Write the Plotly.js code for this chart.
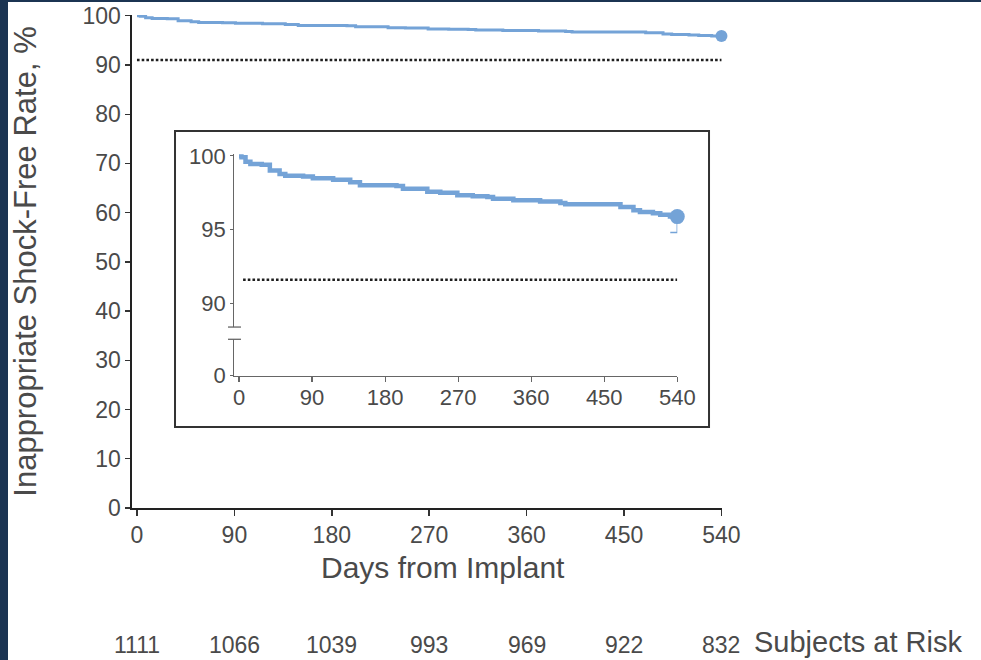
<!DOCTYPE html>
<html>
<head>
<meta charset="utf-8">
<script src="https://cdn.plot.ly/plotly-3.0.1.min.js"></script>
<style>
  html, body { margin: 0; padding: 0; background: #ffffff; }
  #wrap { position: relative; width: 981px; height: 660px; overflow: hidden; }
  #chart { position: absolute; left: 0; top: 0; width: 981px; height: 660px; }
  .band { position: absolute; background: #1b3452; }
</style>
</head>
<body>
<div id="wrap">
  <div id="chart"></div>
  <div class="band" style="left:0;top:0;width:8px;height:660px;"></div>
  <div class="band" style="left:0;top:0;width:981px;height:2px;"></div>
</div>
<script>
// ---- data ----
const kmDays = [0, 3, 8, 14, 28, 38, 50, 57, 79, 91, 116, 137, 149, 194, 202, 232, 248, 269, 288, 306, 313, 338, 371, 396, 402, 459, 470, 486, 494, 510, 519, 531, 540];
const kmSurv = [100, 99.9, 99.6, 99.45, 99.4, 99.0, 98.76, 98.64, 98.6, 98.48, 98.37, 98.2, 98.0, 97.95, 97.77, 97.56, 97.49, 97.33, 97.26, 97.2, 97.08, 96.99, 96.9, 96.8, 96.71, 96.71, 96.53, 96.3, 96.19, 96.1, 96.0, 95.88, 95.88];
const endCiLower = 94.8;
const goalDays = [0, 540];
const goalMain = [91, 91];
const goalInset = [91.6, 91.6];
const xTicks = [0, 90, 180, 270, 360, 450, 540];
const xTickText = ['0', '90', '180', '270', '360', '450', '540'];
const yTicksMain = [0, 10, 20, 30, 40, 50, 60, 70, 80, 90, 100];
const yTicksInset = [85.1, 90, 95, 100];
const yTickTextInset = ['0', '90', '95', '100'];
const atRisk = [1111, 1066, 1039, 993, 969, 922, 832];
const atRiskDays = [0, 90, 180, 270, 360, 450, 540];

// ---- styling ----
const blue = '#74a3d7';
const txt = '#4a4a4a';
const FONT = 'Liberation Sans, Arial, Helvetica, sans-serif';

const lastI = kmDays.length - 1;
const traces = [
  { x: kmDays, y: kmSurv, type: 'scatter', mode: 'lines', xaxis: 'x', yaxis: 'y',
    line: { color: blue, width: 3, shape: 'hv' }, hoverinfo: 'skip' },
  { x: goalDays, y: goalMain, type: 'scatter', mode: 'lines', xaxis: 'x', yaxis: 'y',
    line: { color: '#1e1e1e', width: 2.6, dash: '2.6px,2.1px' }, hoverinfo: 'skip' },
  { x: [kmDays[lastI]], y: [kmSurv[lastI]], type: 'scatter', mode: 'markers', xaxis: 'x', yaxis: 'y',
    marker: { color: blue, size: 12 }, cliponaxis: false, hoverinfo: 'skip' },
  { x: kmDays, y: kmSurv, type: 'scatter', mode: 'lines', xaxis: 'x2', yaxis: 'y2',
    line: { color: blue, width: 4.5, shape: 'hv' }, hoverinfo: 'skip' },
  { x: [goalDays[0] + 5, goalDays[1]], y: goalInset, type: 'scatter', mode: 'lines', xaxis: 'x2', yaxis: 'y2',
    line: { color: '#1e1e1e', width: 2.6, dash: '2.6px,2.1px' }, hoverinfo: 'skip' },
  { x: [kmDays[lastI]], y: [kmSurv[lastI]], type: 'scatter', mode: 'markers', xaxis: 'x2', yaxis: 'y2',
    marker: { color: blue, size: 15 }, cliponaxis: false, hoverinfo: 'skip',
    error_y: { type: 'data', symmetric: false, array: [0], arrayminus: [kmSurv[lastI] - endCiLower],
               color: blue, thickness: 1.5, width: 7 } }
];

const annotations = atRisk.map((n, i) => ({
  x: atRiskDays[i], xref: 'x', y: -0.278, yref: 'paper', text: String(n), showarrow: false,
  xanchor: 'center', yanchor: 'middle', font: { family: FONT, size: 23, color: txt }
}));
annotations.push({
  x: 1.0508, xref: 'paper', y: -0.272, yref: 'paper', text: 'Subjects at Risk', showarrow: false,
  xanchor: 'left', yanchor: 'middle', font: { family: FONT, size: 29, color: txt }
});
annotations.push({
  x: 0.527, xref: 'paper', y: -0.1217, yref: 'paper', text: 'Days from Implant', showarrow: false,
  xanchor: 'center', yanchor: 'middle', font: { family: FONT, size: 30, color: txt }
});

const layout = {
  width: 981, height: 660,
  margin: { l: 132, r: 259, t: 15, b: 152, pad: 0 },
  paper_bgcolor: '#ffffff', plot_bgcolor: '#ffffff',
  showlegend: false,
  font: { family: FONT, color: txt },
  xaxis: {
    domain: [0, 1], range: [-4.6, 540.5], tickvals: xTicks, ticktext: xTickText,
    ticks: 'outside', ticklen: 6, tickwidth: 1.5, tickcolor: '#333',
    showline: true, linecolor: '#222', linewidth: 1.6, showgrid: false, zeroline: false,
    tickfont: { family: FONT, size: 23, color: txt }
  },
  yaxis: {
    domain: [0, 1], range: [0, 100.15], tickvals: yTicksMain,
    ticks: 'outside', ticklen: 5, tickwidth: 1.3, tickcolor: '#333',
    showline: true, linecolor: '#222', linewidth: 1.6, showgrid: false, zeroline: false,
    tickfont: { family: FONT, size: 23, color: txt },
    title: { text: 'Inappropriate Shock-Free Rate, %', font: { family: FONT, size: 31, color: txt }, standoff: 36 }
  },
  xaxis2: {
    domain: [0.1734, 0.9242], anchor: 'y2', range: [-5.8, 540], tickvals: xTicks, ticktext: xTickText,
    ticks: 'outside', ticklen: 5, tickwidth: 1.2, tickcolor: '#666', ticklabelstandoff: -4,
    showline: true, linecolor: '#666', linewidth: 1.2, showgrid: false, zeroline: false,
    tickfont: { family: FONT, size: 22, color: txt }
  },
  yaxis2: {
    domain: [0.2677, 0.7174], anchor: 'x2', range: [85.07, 100.1], tickvals: yTicksInset, ticktext: yTickTextInset,
    ticks: 'outside', ticklen: 3, tickwidth: 1.2, tickcolor: '#666',
    showline: true, linecolor: '#666', linewidth: 1.2, showgrid: false, zeroline: false,
    tickfont: { family: FONT, size: 22, color: txt }
  },
  shapes: [
    { type: 'rect', xref: 'paper', yref: 'paper', x0: 0.0729, x1: 0.978, y0: 0.1643, y1: 0.7647,
      line: { color: '#333', width: 2 }, fillcolor: 'rgba(0,0,0,0)', layer: 'below' },
    { type: 'rect', xref: 'paper', yref: 'y2', x0: 0.168, x1: 0.179, y0: 87.56, y1: 88.39,
      line: { width: 0 }, fillcolor: '#ffffff' },
    { type: 'line', xref: 'paper', yref: 'y2', x0: 0.1627, x1: 0.1847, y0: 88.39, y1: 88.39,
      line: { color: '#666', width: 1.3 } },
    { type: 'line', xref: 'paper', yref: 'y2', x0: 0.1627, x1: 0.1847, y0: 87.56, y1: 87.56,
      line: { color: '#666', width: 1.3 } }
  ],
  annotations: annotations
};

Plotly.newPlot('chart', traces, layout, { staticPlot: true, displayModeBar: false });
</script>
</body>
</html>
